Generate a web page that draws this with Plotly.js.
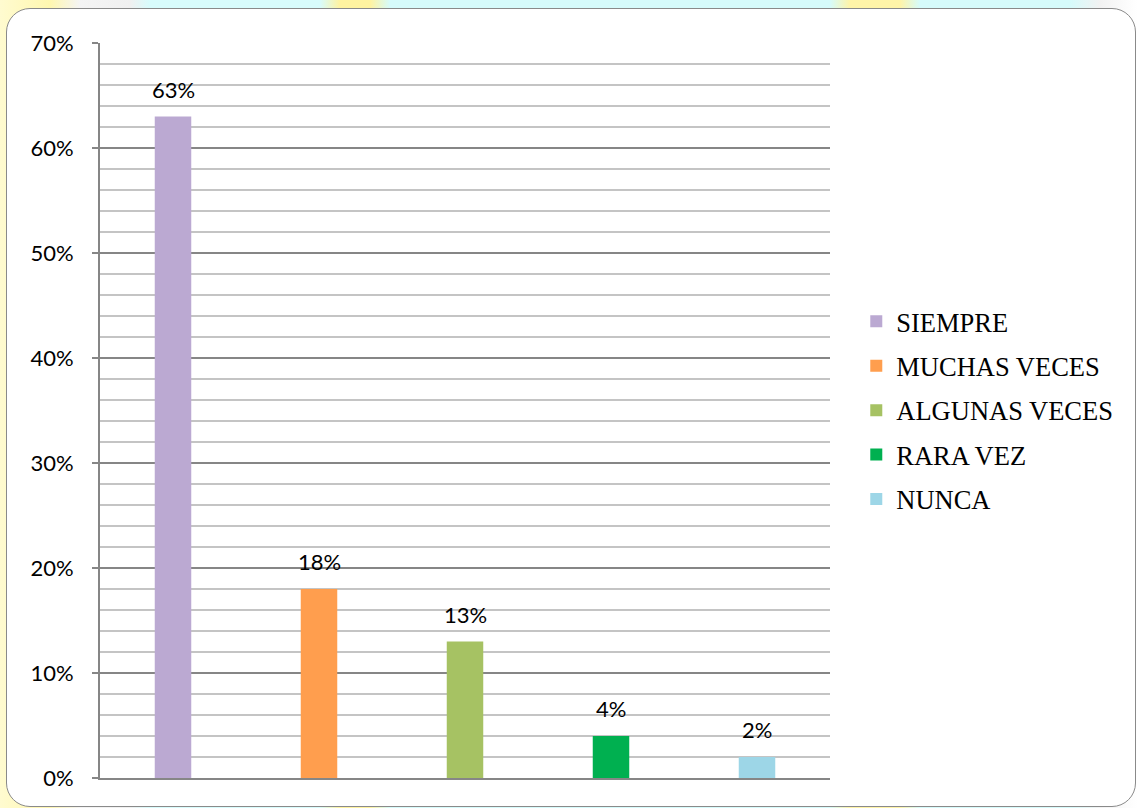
<!DOCTYPE html>
<html>
<head>
<meta charset="utf-8">
<script src="https://cdn.plot.ly/plotly-3.0.1.min.js"></script>
<style>
  html, body { margin: 0; padding: 0; width: 1137px; height: 808px; overflow: hidden; }
  body {
    background: linear-gradient(to right, #fffbd0 0px, #fff7b0 50px, #f4f4f4 80px, #f0f0f0 130px, #d8fcfc 150px, #d8fcfc 320px, #fff3a0 340px, #fff3a0 370px, #d6fbfb 390px, #d6fbfb 830px, #fff4a8 850px, #fff4a8 900px, #d6fbfb 920px, #d6fbfb 1070px, #f2f2f2 1100px, #ffffff 1137px);
  }
  #frame {
    position: absolute; left: 6px; top: 8px; width: 1128px; height: 797px;
    border: 1.5px solid #8a8a8a; border-radius: 24px; background: #ffffff;
  }
  #chart { position: absolute; left: 0; top: 0; width: 1137px; height: 808px; }
</style>
</head>
<body>
<div id="frame"></div>
<div id="chart"></div>
<script>
const categories = ["SIEMPRE", "MUCHAS VECES", "ALGUNAS VECES", "RARA VEZ", "NUNCA"];
const values = [63, 18, 13, 4, 2];
const labels = ["63%", "18%", "13%", "4%", "2%"];
const colors = ["#BBA9D2", "#FF9E4E", "#A6C263", "#00B050", "#9DD6E7"];
const yTickVals = [0, 10, 20, 30, 40, 50, 60, 70];
const yTickText = ["0%", "10%", "20%", "30%", "40%", "50%", "60%", "70%"];

const traces = categories.map((c, i) => ({
  type: "bar",
  name: c,
  x: [c],
  y: [values[i]],
  width: 0.25,
  marker: { color: colors[i], line: { width: 0 } },
  legendgroup: "g" + i,
  hoverinfo: "none"
}));

const annotations = categories.map((c, i) => ({
  x: c, y: values[i], xref: "x", yref: "y",
  text: labels[i], showarrow: false,
  yanchor: "bottom", yshift: 12,
  font: { family: "Lato, 'Open Sans', sans-serif", size: 22, color: "#000000" }
}));

const layout = {
  width: 1137, height: 808,
  paper_bgcolor: "rgba(0,0,0,0)",
  plot_bgcolor: "rgba(0,0,0,0)",
  margin: { l: 100, r: 307, t: 43, b: 30 },
  barmode: "overlay",
  showlegend: true,
  legend: {
    x: 1.036, xanchor: "left", y: 0.5, yanchor: "middle",
    font: { family: "'Liberation Serif', 'Times New Roman', serif", size: 26.5, color: "#000000" },
    traceorder: "grouped", tracegroupgap: 7,
    bgcolor: "rgba(0,0,0,0)"
  },
  xaxis: {
    type: "category",
    categoryorder: "array", categoryarray: categories,
    showticklabels: false, ticks: "",
    showgrid: false, zeroline: false,
    showline: true, linecolor: "#868686", linewidth: 2,
    fixedrange: true
  },
  yaxis: {
    range: [0, 70],
    tickvals: yTickVals, ticktext: yTickText,
    ticks: "outside", ticklen: 6, tickwidth: 2, tickcolor: "#868686",
    ticklabelstandoff: 14,
    tickfont: { family: "Lato, 'Open Sans', sans-serif", size: 22, color: "#000000" },
    showgrid: true, gridcolor: "#868686", gridwidth: 2,
    minor: { dtick: 2, showgrid: true, gridcolor: "#c4c4c4", gridwidth: 2 },
    zeroline: false,
    showline: true, linecolor: "#868686", linewidth: 2,
    fixedrange: true
  },
  annotations: annotations
};

Plotly.newPlot("chart", traces, layout, { displayModeBar: false, staticPlot: true });
</script>
</body>
</html>
